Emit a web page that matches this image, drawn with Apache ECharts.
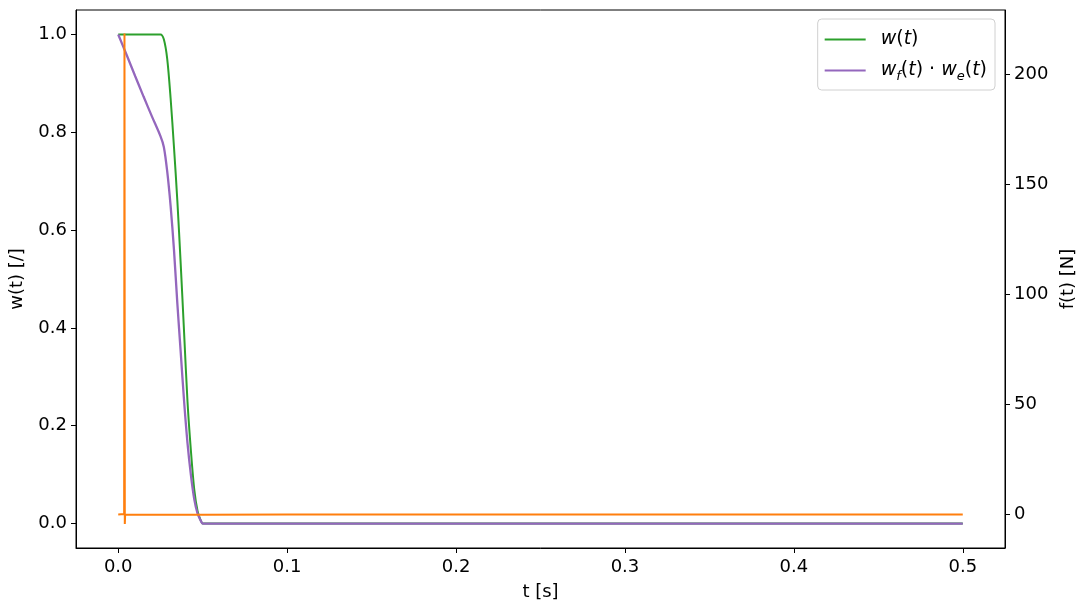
<!DOCTYPE html>
<html>
<head>
<meta charset="utf-8">
<script src="https://cdn.jsdelivr.net/npm/echarts@6/dist/echarts.min.js"></script>
<style>html,body{margin:0;padding:0;background:#fff}#c{width:1086px;height:612px}</style>
</head>
<body>
<div id="c"></div>
<script>
// time samples for the weight curves [s]
const tW = [0, 0.005, 0.01, 0.015, 0.02, 0.025, 0.027, 0.029, 0.031, 0.033, 0.035, 0.037, 0.039, 0.041, 0.043, 0.045, 0.047, 0.049, 0.05, 0.1, 0.2, 0.3, 0.4, 0.5];
// w(t)
const wVals = [1, 1, 1, 1, 1, 1, 0.99, 0.95, 0.87, 0.77, 0.66, 0.53, 0.39, 0.25, 0.15, 0.07, 0.025, 0.005, 0, 0, 0, 0, 0, 0];
// w_f(t)*w_e(t)
const wfweVals = [1, 0.958, 0.915, 0.873, 0.832, 0.792, 0.77, 0.72, 0.65, 0.56, 0.45, 0.35, 0.25, 0.165, 0.10, 0.05, 0.02, 0.005, 0, 0, 0, 0, 0, 0];
// force samples
const tF = [0, 0.0035, 0.0037, 0.0039, 0.0041, 0.02, 0.05, 0.1, 0.2, 0.3, 0.4, 0.5];
const fVals = [0, 0.2, 218.5, -4.3, 0, -0.1, -0.1, 0, 0, 0, 0, 0];
// tick labels
const xTicks = [0, 0.1, 0.2, 0.3, 0.4, 0.5];
const yLeftTicks = [0, 0.2, 0.4, 0.6, 0.8, 1.0];
const yRightTicks = [0, 50, 100, 150, 200];

const zip = (a, b) => a.map((v, i) => [v, b[i]]);
const FONT = 'DejaVu Sans';
const FS = 18;
const axisCommon = {
  axisLine: { show: true, onZero: false, lineStyle: { color: '#000', width: 1 } },
  axisTick: { show: true, inside: false, length: 5, lineStyle: { color: '#000' } },
  axisLabel: { color: '#000', fontFamily: FONT, fontSize: FS },
  splitLine: { show: false },
  nameTextStyle: { color: '#000', fontFamily: FONT, fontSize: FS },
  nameLocation: 'middle'
};
const LINE_ICON = 'path://M0,0H40V2H0Z';

const chart = echarts.init(document.getElementById('c'), null, { renderer: 'canvas' });
chart.setOption({
  animation: false,
  backgroundColor: '#fff',
  grid: { left: 75, right: 81, top: 10, bottom: 64, show: true, borderColor: '#000', borderWidth: 1, containLabel: false },
  legend: {
    data: [{ name: 'w(t)', icon: LINE_ICON }, { name: 'wfwe', icon: LINE_ICON }],
    orient: 'vertical',
    right: 91,
    top: 19,
    padding: [11, 8, 7, 7],
    itemGap: 12,
    itemWidth: 41,
    itemHeight: 14,
    symbolKeepAspect: true,
    backgroundColor: '#fff',
    borderColor: '#d0d0d0',
    borderWidth: 1,
    borderRadius: 4,
    textStyle: { color: '#000', fontFamily: FONT, fontSize: 19,
      rich: {
        g: { width: 10, fontSize: 19, lineHeight: 25 },
        i: { fontFamily: FONT, fontStyle: 'italic', fontSize: 19, color: '#000', lineHeight: 25 },
        n: { fontFamily: FONT, fontSize: 19, color: '#000', lineHeight: 25 },
        s: { fontFamily: FONT, fontStyle: 'italic', fontSize: 13, color: '#000', verticalAlign: 'bottom', lineHeight: 13 }
      }
    },
    formatter: function (name) {
      if (name === 'w(t)') return '{g|}{i|w}{n|(}{i|t}{n|)}';
      return '{g|}{i|w}{s|f}{n|(}{i|t}{n|) · }{i|w}{s|e}{n|(}{i|t}{n|)}';
    }
  },
  xAxis: Object.assign({}, axisCommon, {
    type: 'value', min: -0.025, max: 0.525, name: 't [s]', nameGap: 35,
    axisTick: Object.assign({}, axisCommon.axisTick, { customValues: xTicks }),
    axisLabel: Object.assign({}, axisCommon.axisLabel, { customValues: xTicks, margin: 10, formatter: v => v.toFixed(1) })
  }),
  yAxis: [
    Object.assign({}, axisCommon, {
      type: 'value', min: -0.05, max: 1.05, name: 'w(t) [/]', nameGap: 50,
      axisTick: Object.assign({}, axisCommon.axisTick, { customValues: yLeftTicks }),
      axisLabel: Object.assign({}, axisCommon.axisLabel, { customValues: yLeftTicks, margin: 9, formatter: v => v.toFixed(1) })
    }),
    Object.assign({}, axisCommon, {
      type: 'value', position: 'right', min: -15.2, max: 229.2, name: 'f(t) [N]', nameGap: 52,
      axisTick: Object.assign({}, axisCommon.axisTick, { customValues: yRightTicks }),
      axisLabel: Object.assign({}, axisCommon.axisLabel, { customValues: yRightTicks, margin: 9, formatter: v => String(Math.round(v)) })
    })
  ],
  series: [
    { name: 'w(t)', type: 'line', data: zip(tW, wVals), yAxisIndex: 0, symbol: 'none', smooth: 0.3,
      lineStyle: { color: '#2ca02c', width: 2 }, itemStyle: { color: '#2ca02c' }, z: 2 },
    { name: 'wfwe', type: 'line', data: zip(tW, wfweVals), yAxisIndex: 0, symbol: 'none', smooth: 0.3,
      lineStyle: { color: '#9467bd', width: 2.3 }, itemStyle: { color: '#9467bd' }, z: 3 },
    { name: 'f(t)', type: 'line', data: zip(tF, fVals), yAxisIndex: 1, symbol: 'none',
      lineStyle: { color: '#ff7f0e', width: 2 }, itemStyle: { color: '#ff7f0e' }, z: 4 }
  ]
});
</script>
</body>
</html>
